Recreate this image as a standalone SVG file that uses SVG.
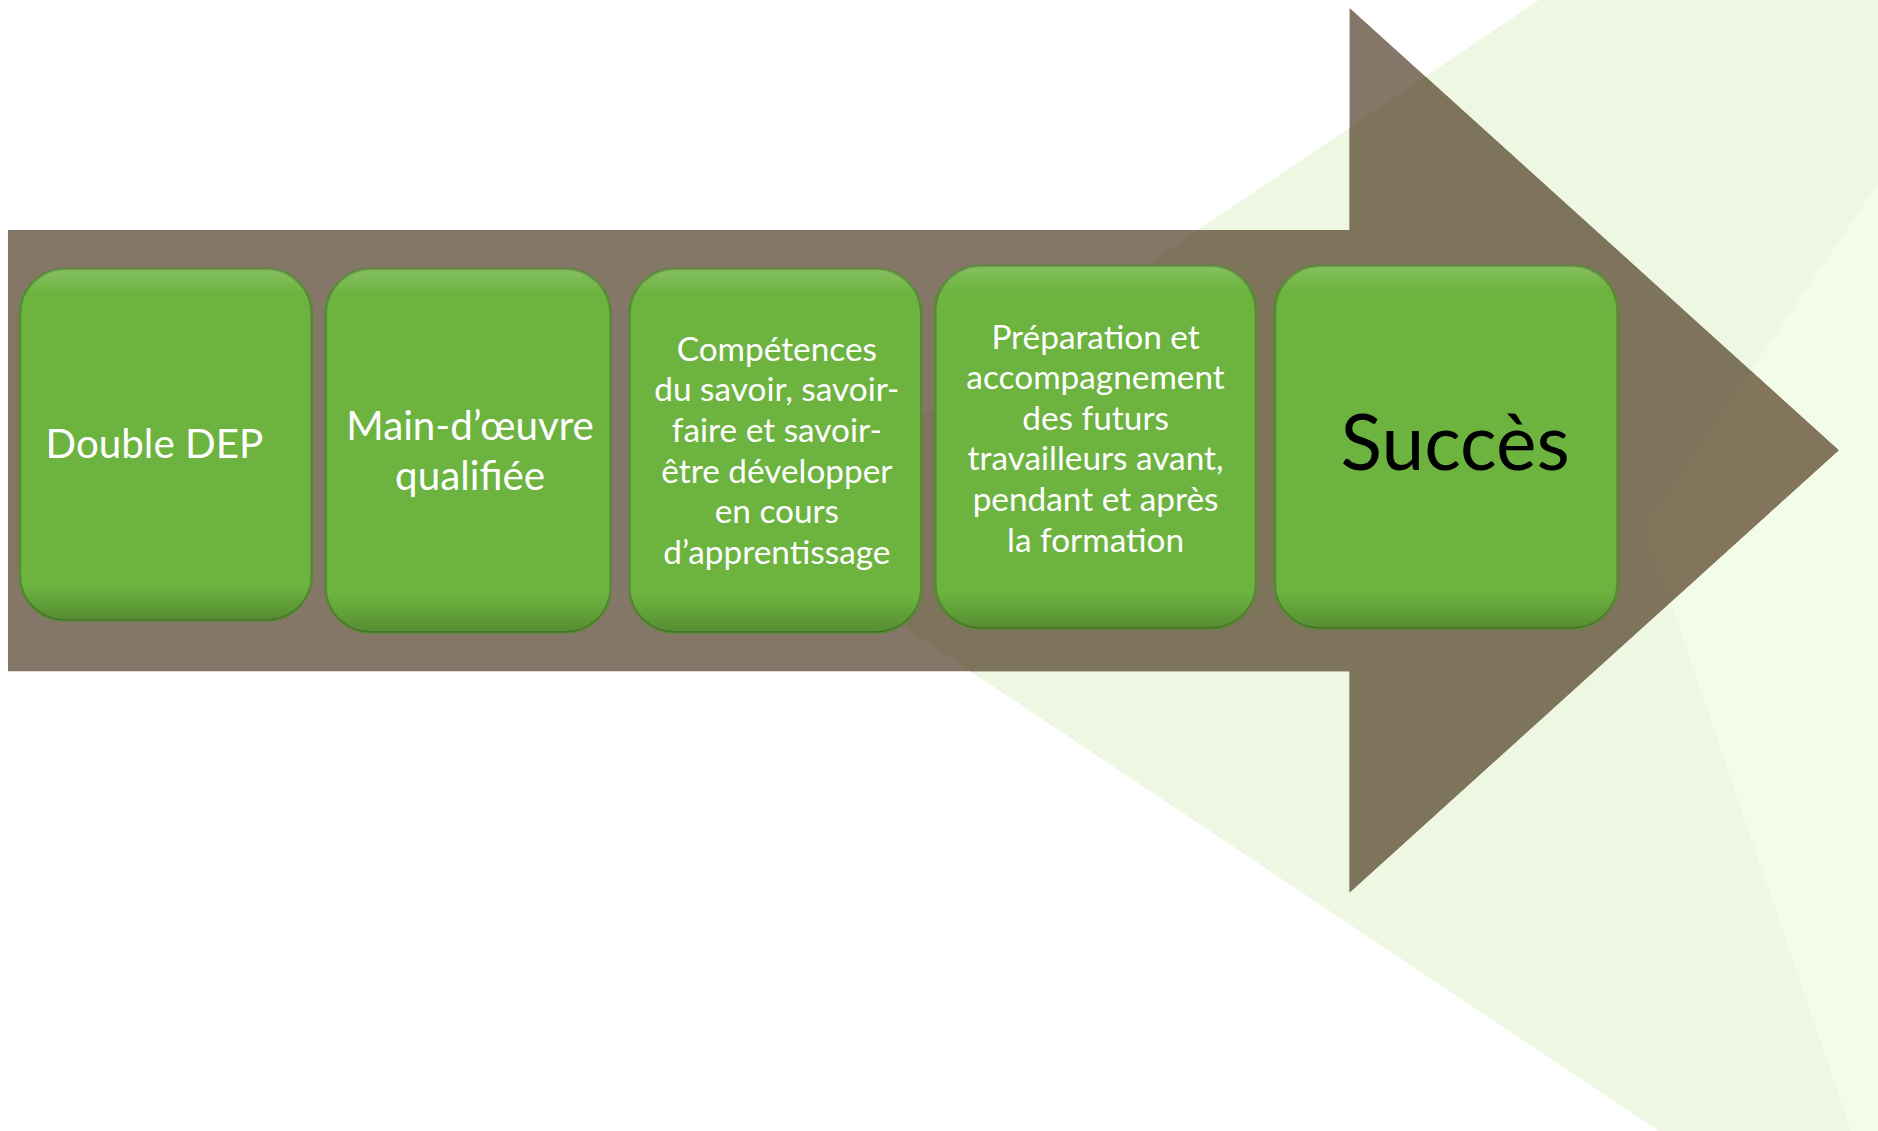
<svg xmlns="http://www.w3.org/2000/svg" width="1878" height="1131" viewBox="0 0 1878 1131">
  <style>
    .box { fill: #6db33f; stroke: #568a33; stroke-width: 2.5; }
    .bevel { fill: url(#bevel); stroke: none; }
    .lbl { font-family: Lato, "Open Sans", "Liberation Sans", sans-serif; fill: #ffffff; text-anchor: middle; }
    .big { font-size: 40.5px; }
    .small { font-size: 33.5px; }
    .succ { font-family: Lato, "Open Sans", "Liberation Sans", sans-serif; fill: #000000; text-anchor: middle; font-size: 77px; }
  </style>
  <defs>
    <linearGradient id="bevel" x1="0" y1="0" x2="0" y2="1">
      <stop offset="0" stop-color="#ffffff" stop-opacity="0.18"/>
      <stop offset="0.07" stop-color="#ffffff" stop-opacity="0"/>
      <stop offset="0.9" stop-color="#000000" stop-opacity="0"/>
      <stop offset="1" stop-color="#000000" stop-opacity="0.22"/>
    </linearGradient>
    <clipPath id="paleClip">
      <polygon points="1545,0 1886,0 1886,1136 1666,1136 759,530"/>
    </clipPath>
    <clipPath id="wedgeClip">
      <polygon points="1886,184 1652,529 1858,1136 1886,1136"/>
    </clipPath>
    <path id="arrowShape" d="M8,231 L1355,231 L1355,8 L1846,452 L1355,896 L1355,674 L8,674 Z"/>
  </defs>

  <g id="background">
    <rect x="0" y="0" width="1878" height="1131" fill="#ffffff"/>
    <polygon points="1539,0 1878,0 1878,1131 1659,1131 756,528" fill="#eef7e2"/>
    <polygon points="1878,183 1645,527 1851,1131 1878,1131" fill="#f3fce8"/>
  </g>

  <g id="diagram" transform="scale(0.996)">
    <g id="arrow">
      <use href="#arrowShape" fill="#857768"/>
      <use href="#arrowShape" fill="#7e745b" clip-path="url(#paleClip)"/>
      <use href="#arrowShape" fill="#83755b" clip-path="url(#wedgeClip)"/>
    </g>

    <g id="node-double-dep">
      <rect class="box" x="20" y="270" width="293" height="353" rx="45" ry="45"/>
      <rect class="bevel" x="20" y="270" width="293" height="353" rx="45" ry="45"/>
      <text class="lbl big" x="155" y="460">Double DEP</text>
    </g>

    <g id="node-main-doeuvre">
      <rect class="box" x="327" y="270" width="286" height="365" rx="45" ry="45"/>
      <rect class="bevel" x="327" y="270" width="286" height="365" rx="45" ry="45"/>
      <text class="lbl big" x="472" y="442">Main-d’œuvre</text>
      <text class="lbl big" x="472" y="492">qualifiée</text>
    </g>

    <g id="node-competences">
      <rect class="box" x="632" y="270" width="293" height="365" rx="45" ry="45"/>
      <rect class="bevel" x="632" y="270" width="293" height="365" rx="45" ry="45"/>
      <text class="lbl small" x="780" y="362">Compétences</text>
      <text class="lbl small" x="780" y="403">du savoir, savoir-</text>
      <text class="lbl small" x="780" y="444">faire et savoir-</text>
      <text class="lbl small" x="780" y="485">être développer</text>
      <text class="lbl small" x="780" y="525">en cours</text>
      <text class="lbl small" x="780" y="566">d’apprentissage</text>
    </g>

    <g id="node-preparation">
      <rect class="box" x="939" y="267" width="322" height="364" rx="45" ry="45"/>
      <rect class="bevel" x="939" y="267" width="322" height="364" rx="45" ry="45"/>
      <text class="lbl small" x="1100" y="350">Préparation et</text>
      <text class="lbl small" x="1100" y="391">accompagnement</text>
      <text class="lbl small" x="1100" y="432">des futurs</text>
      <text class="lbl small" x="1100" y="472">travailleurs avant,</text>
      <text class="lbl small" x="1100" y="513">pendant et après</text>
      <text class="lbl small" x="1100" y="554">la formation</text>
    </g>

    <g id="node-succes">
      <rect class="box" x="1280" y="267" width="344" height="364" rx="45" ry="45"/>
      <rect class="bevel" x="1280" y="267" width="344" height="364" rx="45" ry="45"/>
      <text class="succ" x="1461" y="472">Succès</text>
    </g>

    <g id="connectors"></g>
  </g>
</svg>
